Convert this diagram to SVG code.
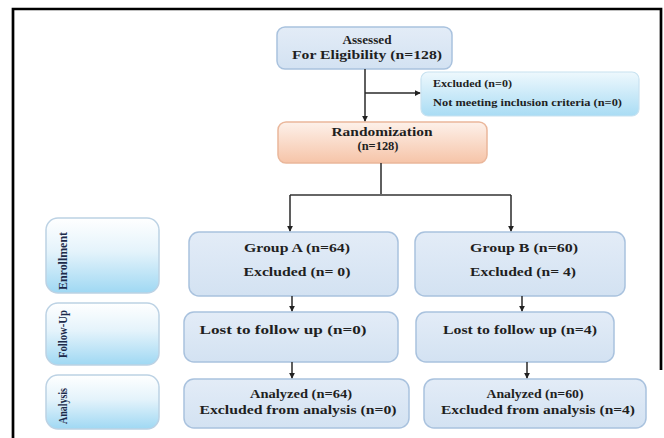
<svg xmlns="http://www.w3.org/2000/svg" width="664" height="438" viewBox="0 0 664 438">
<defs>
<linearGradient id="gBlue" x1="0" y1="0" x2="0" y2="1">
<stop offset="0" stop-color="#e3ecf7"/><stop offset="1" stop-color="#d3e2f2"/>
</linearGradient>
<linearGradient id="gSide" x1="0" y1="0" x2="0" y2="1">
<stop offset="0" stop-color="#ffffff"/><stop offset="0.45" stop-color="#e4f3fb"/><stop offset="1" stop-color="#9fd8f3"/>
</linearGradient>
<linearGradient id="gExcl" x1="0" y1="0" x2="0" y2="1">
<stop offset="0" stop-color="#eef8fd"/><stop offset="1" stop-color="#a9dcf4"/>
</linearGradient>
<linearGradient id="gPeach" x1="0" y1="0" x2="0" y2="1">
<stop offset="0" stop-color="#fdf1ea"/><stop offset="1" stop-color="#f6c4a8"/>
</linearGradient>
<marker id="arr" viewBox="0 0 8 8" refX="7" refY="4" markerWidth="6" markerHeight="6" orient="auto" markerUnits="userSpaceOnUse">
<path d="M0,0 L8,4 L0,8 z" fill="#222"/>
</marker>
</defs>
<style>
.box{fill:url(#gBlue);stroke:#a9c2de;stroke-width:1.5}
.side{fill:url(#gSide);stroke:#bcd2e4;stroke-width:1.5}
.t{font-family:"Liberation Serif","Times New Roman",serif;font-weight:bold;font-size:13px;fill:#1f1f1f;text-anchor:middle}
.r{font-size:12px}
.s{font-family:"Liberation Serif","Times New Roman",serif;font-weight:bold;font-size:9.5px;fill:#1f1f1f}
.v{font-family:"Liberation Serif","Times New Roman",serif;font-weight:bold;font-size:12px;fill:#1c2a4a;text-anchor:middle}
.c{fill:none;stroke:#2a2a2a;stroke-width:1.5}
</style>
<rect x="0" y="0" width="664" height="438" fill="#ffffff"/>
<path d="M13,438 V9 H661 V370" fill="none" stroke="#000" stroke-width="2.7"/>

<g id="assessed">
<rect class="box" x="277" y="27" width="175" height="42" rx="8"/>
<text class="t" x="367" y="44" textLength="49" lengthAdjust="spacingAndGlyphs">Assessed</text>
<text class="t" x="367" y="59" textLength="150" lengthAdjust="spacingAndGlyphs">For Eligibility (n=128)</text>
</g>
<g id="excluded">
<rect x="421" y="72" width="218" height="44" rx="7" fill="url(#gExcl)" stroke="#c8e2f0" stroke-width="1.2"/>
<text class="s" x="433" y="87" textLength="79" lengthAdjust="spacingAndGlyphs">Excluded (n=0)</text>
<text class="s" x="433" y="106" textLength="189" lengthAdjust="spacingAndGlyphs">Not meeting inclusion criteria (n=0)</text>
</g>
<g id="randomization">
<rect x="278" y="122" width="209" height="41" rx="8" fill="url(#gPeach)" stroke="#eab79b" stroke-width="1.5"/>
<text class="t r" x="382" y="136" textLength="101" lengthAdjust="spacingAndGlyphs">Randomization</text>
<text class="t r" x="378" y="150" textLength="41" lengthAdjust="spacingAndGlyphs">(n=128)</text>
</g>
<g id="enrollment">
<rect class="side" x="46" y="218" width="113" height="75" rx="12"/>
<text class="v" transform="translate(67,261) rotate(-90)" textLength="58" lengthAdjust="spacingAndGlyphs">Enrollment</text>
</g>
<g id="followup">
<rect class="side" x="46" y="303" width="113" height="62" rx="12"/>
<text class="v" transform="translate(67,334) rotate(-90)" textLength="48" lengthAdjust="spacingAndGlyphs">Follow-Up</text>
</g>
<g id="analysis">
<rect class="side" x="46" y="375" width="113" height="54" rx="12"/>
<text class="v" transform="translate(67,406) rotate(-90)" textLength="36" lengthAdjust="spacingAndGlyphs">Analysis</text>
</g>
<g id="groupA">
<rect class="box" x="189" y="232" width="209" height="64" rx="10"/>
<text class="t" x="297" y="252" textLength="106" lengthAdjust="spacingAndGlyphs">Group A (n=64)</text>
<text class="t" x="297" y="276" textLength="107" lengthAdjust="spacingAndGlyphs">Excluded (n= 0)</text>
</g>
<g id="groupB">
<rect class="box" x="415" y="232" width="210" height="64" rx="10"/>
<text class="t" x="524" y="252" textLength="108" lengthAdjust="spacingAndGlyphs">Group B (n=60)</text>
<text class="t" x="523" y="276" textLength="106" lengthAdjust="spacingAndGlyphs">Excluded (n= 4)</text>
</g>
<g id="lostA">
<rect class="box" x="184" y="312" width="214" height="50" rx="10"/>
<text class="t" x="283" y="334" textLength="167" lengthAdjust="spacingAndGlyphs">Lost to follow up (n=0)</text>
</g>
<g id="lostB">
<rect class="box" x="416" y="312" width="198" height="50" rx="10"/>
<text class="t" x="520" y="334" textLength="154" lengthAdjust="spacingAndGlyphs">Lost to follow up (n=4)</text>
</g>
<g id="analyzedA">
<rect class="box" x="184" y="379" width="225" height="49" rx="10"/>
<text class="t" x="301" y="398" textLength="102" lengthAdjust="spacingAndGlyphs">Analyzed (n=64)</text>
<text class="t" x="298" y="414" textLength="197" lengthAdjust="spacingAndGlyphs">Excluded from analysis (n=0)</text>
</g>
<g id="analyzedB">
<rect class="box" x="424" y="379" width="222" height="49" rx="10"/>
<text class="t" x="535" y="398" textLength="97" lengthAdjust="spacingAndGlyphs">Analyzed (n=60)</text>
<text class="t" x="538" y="414" textLength="194" lengthAdjust="spacingAndGlyphs">Excluded from analysis (n=4)</text>
</g>

<g id="connectors">
<path class="c" d="M365,69 V121" marker-end="url(#arr)"/>
<path class="c" d="M365,93 H420" marker-end="url(#arr)"/>
<path class="c" d="M381,163 V195"/>
<path d="M290,195 H511" fill="none" stroke="#666" stroke-width="2"/>
<path class="c" d="M290,195 V231" marker-end="url(#arr)"/>
<path class="c" d="M511,195 V231" marker-end="url(#arr)"/>
<path class="c" d="M292,296 V311" marker-end="url(#arr)"/>
<path class="c" d="M522,296 V311" marker-end="url(#arr)"/>
<path class="c" d="M292,362 V378" marker-end="url(#arr)"/>
<path class="c" d="M527,362 V378" marker-end="url(#arr)"/>
</g>
</svg>
